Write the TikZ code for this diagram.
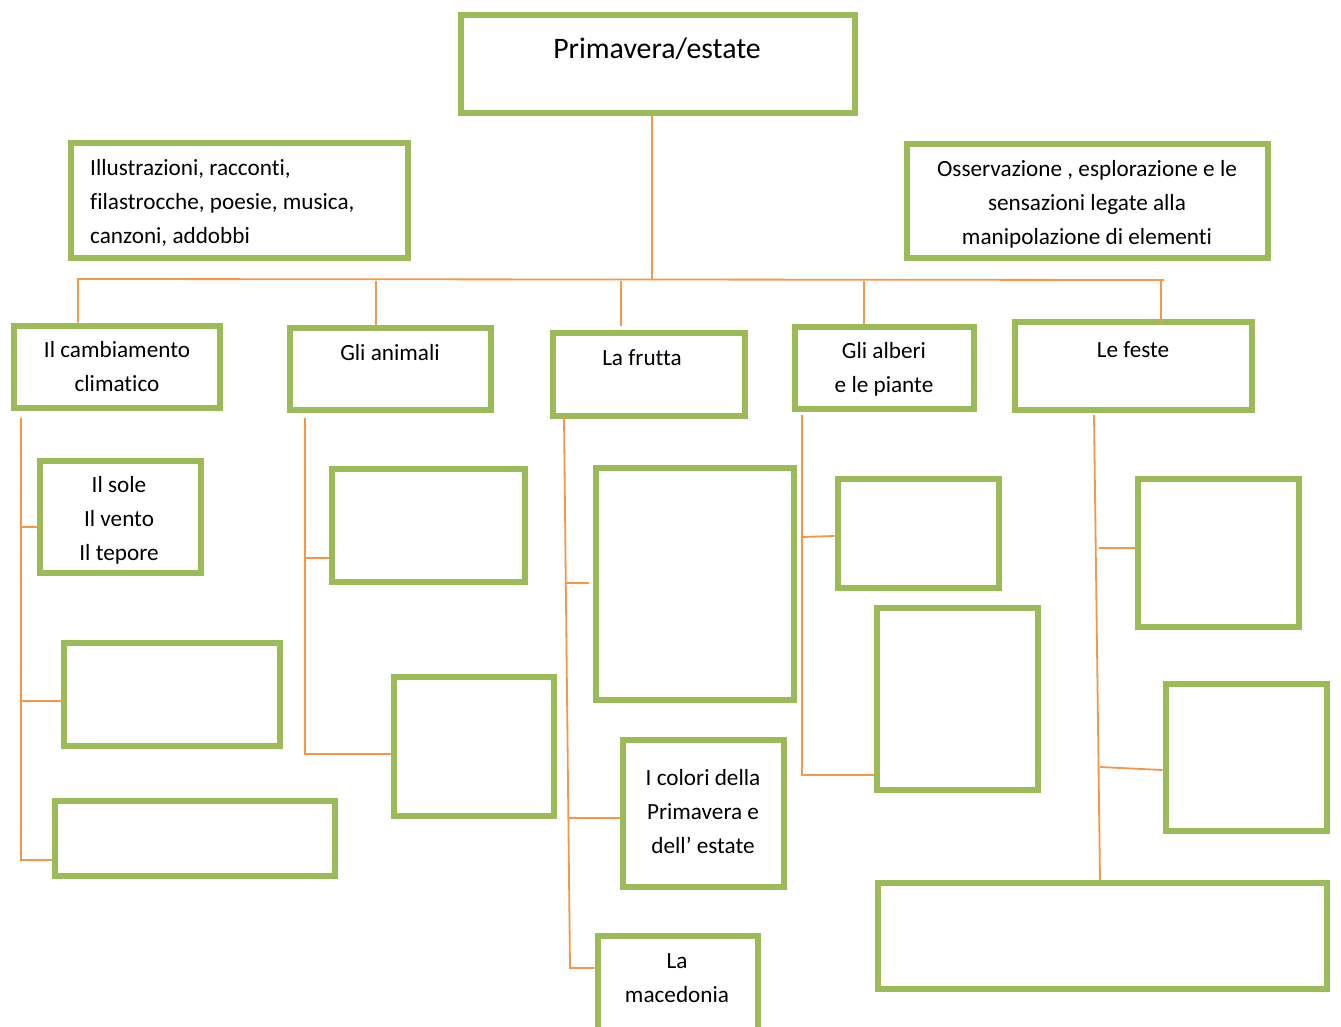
\documentclass[tikz,border=0pt]{standalone}
\usepackage{fontspec}
\setmainfont{Carlito}[Ligatures=NoCommon]
\definecolor{boxgreen}{HTML}{9BBB59}
\definecolor{linkorange}{HTML}{F79646}
\tikzset{
  gbox/.style={draw=boxgreen, line width=6pt, fill=white, inner sep=0pt, rectangle},
  link/.style={draw=linkorange, line width=1.8pt},
  txt/.style={inner sep=0pt, align=center, font=\fontsize{23.2}{34}\selectfont},
}
% box given by its outer edges: name, x1, y1, x2, y2
\newcommand\gbox[5]{\node[gbox, minimum width={#4-#2-5}, minimum height={#5-#3-5}] (#1) at ({(#2+#4)/2},{(#3+#5)/2}) {};}
\begin{document}
\begin{tikzpicture}[x=1pt, y=-1pt]
\clip (0,0) rectangle (1341,1027);
\fill[white] (0,0) rectangle (1341,1027);

% ---------- connector anchors ----------
\coordinate (hub)  at (652,279);
\coordinate (hubL) at (78,279);
\coordinate (hubR) at (1164,280);
\coordinate (dA) at (376,281);
\coordinate (dF) at (621,281);
\coordinate (dB) at (864,281);
\coordinate (dE) at (1161,281);
\coordinate (tC) at (21,418);
\coordinate (tA) at (305,418);
\coordinate (tF) at (564,418);
\coordinate (tFe) at (570,968);
\coordinate (tB) at (802,415);
\coordinate (tE) at (1094,415);
\coordinate (tEe) at (1100,880);

% ---------- boxes ----------
\gbox{top}{458}{13}{857}{116}
\gbox{arts}{68}{141}{410}{260}
\gbox{obs}{904}{142}{1270}{260}
\gbox{clima}{11}{323}{222}{410}
\gbox{anim}{287}{325}{493}{412}
\gbox{frut}{550}{330}{747}{418}
\gbox{albe}{792}{324}{976}{411}
\gbox{fest}{1012}{319}{1254}{412}

\gbox{sole}{37}{458}{203}{575}
\gbox{climaB}{61}{640}{282}{748}
\gbox{climaC}{52}{798}{337}{878}

\gbox{animA}{329}{466}{527}{584}
\gbox{animB}{391}{674}{556}{818}

\gbox{frutA}{593}{465}{796}{702}
\gbox{colori}{620}{737}{786}{889}
\gbox{mace}{595}{933}{760}{1060}

\gbox{albeA}{835}{476}{1001}{590}
\gbox{albeB}{874}{605}{1040}{792}

\gbox{festA}{1135}{476}{1301}{629}
\gbox{festB}{1163}{681}{1329}{833}
\gbox{festC}{875}{880}{1329}{991}

% main stem and top bar
\draw[link] (top.south -| hub) -- (hub);
\draw[link] (hubL |- clima.north) -- (hubL) -- (hubR);
\draw[link] (dA) -- (dA |- anim.north);
\draw[link] (dF) -- (dF |- 0,326);
\draw[link] (dB) -- (dB |- albe.north);
\draw[link] (dE) -- (dE |- 0,324);

% climate branch
\draw[link] (tC) |- (climaC.west |- 0,860);
\draw[link] (tC |- 0,527) -- (sole.west |- 0,527);
\draw[link] (tC |- 0,701) -- (climaB.west |- 0,701);

% animals branch
\draw[link] (tA) |- (animB.west |- 0,754);
\draw[link] (tA |- 0,558) -- (animA.west |- 0,558);

% fruit branch
\draw[link] (tF) -- (tFe) -- (mace.west |- tFe);
\draw[link] (566,583) -- (589,583);
\draw[link] (569,818) -- (colori.west |- 0,818);

% trees branch
\draw[link] (tB) |- (albeB.west |- 0,775);
\draw[link] (tB |- 0,537) -- (albeA.west |- 0,536);

% feasts branch
\draw[link] (tE) -- (tEe) -- (festC.north -| tEe);
\draw[link] (1099,548) -- (festA.west |- 0,548);
\draw[link] (1100,767) -- (festB.west |- 0,770);

% ---------- texts ----------
\node[txt, font=\fontsize{29.8}{34}\selectfont] (tTop) at (657,49) {Primavera/estate};
\node[txt, align=left, anchor=west] (tArts) at (90,203) {Illustrazioni, racconti,\\filastrocche, poesie, musica,\\canzoni, addobbi};
\node[txt] (tObs) at (1087,204) {Osservazione , esplorazione e le\\sensazioni legate alla\\manipolazione di elementi};
\node[txt] (tClima) at (117,367) {Il cambiamento\\climatico};
\node[txt] (tAnim) at (390,353) {Gli animali};
\node[txt] (tFrut) at (642,358) {La frutta};
\node[txt] (tAlbe) at (884,369) {Gli alberi\\e le piante};
\node[txt] (tFest) at (1133,350) {Le feste};
\node[txt] (tSole) at (119,520) {Il sole\\Il vento\\Il tepore};
\node[txt] (tColori) at (703,812) {I colori della\\Primavera e\\dell’ estate};
\node[txt] (tMace) at (677,978) {La\\macedonia};
\end{tikzpicture}
\end{document}
